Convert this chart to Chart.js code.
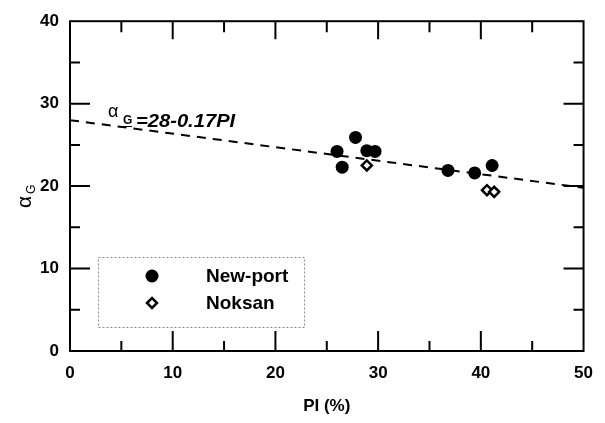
<!DOCTYPE html>
<html>
<head>
<meta charset="utf-8">
<script src="https://cdn.jsdelivr.net/npm/chart.js@4.4.1/dist/chart.umd.min.js"></script>
<style>
  html, body { margin: 0; padding: 0; background: #fff; }
  #wrap { width: 605px; height: 423px; position: relative; }
</style>
</head>
<body>
<div id="wrap"><canvas id="c" width="605" height="423"></canvas></div>
<script>
// ---- data ----
const newportPI = [26.0, 26.5, 27.8, 28.9, 29.7, 36.8, 39.4, 41.1];
const newportAG = [24.2, 22.3, 25.9, 24.3, 24.2, 21.9, 21.6, 22.5];
const noksanPI  = [28.9, 40.6, 41.3];
const noksanAG  = [22.5, 19.5, 19.3];
const fitPI = [0, 50];
const fitAG = [28, 19.8];
const xTicks = [0, 10, 20, 30, 40, 50];
const yTicks = [0, 10, 20, 30, 40];
const seriesNames = ['New-port', 'Noksan'];
const fitLabel = '=28-0.17PI';

const FONT = "'Liberation Sans', Arial, Helvetica, sans-serif";
const toPts = (xs, ys) => xs.map((x, i) => ({ x: x, y: ys[i] }));

const framePlugin = {
  id: 'frame',
  afterDatasetsDraw(chart) {
    const ctx = chart.ctx;
    const { left, right, top, bottom } = chart.chartArea;
    const xs = chart.scales.x, ys = chart.scales.y;
    ctx.save();
    ctx.strokeStyle = '#000';
    ctx.lineWidth = 2;
    ctx.strokeRect(left, top, right - left, bottom - top);
    // inward ticks on all four sides
    ctx.beginPath();
    for (let v = 5; v < 50; v += 5) {
      const px = xs.getPixelForValue(v);
      const len = (v % 10 === 0) ? 20 : 10;
      ctx.moveTo(px, bottom); ctx.lineTo(px, bottom - len);
      ctx.moveTo(px, top); ctx.lineTo(px, top + (v % 10 === 0 ? 18 : 11));
    }
    for (let v = 5; v < 40; v += 5) {
      const py = ys.getPixelForValue(v);
      const len = (v % 10 === 0) ? 20 : 10;
      ctx.moveTo(left, py); ctx.lineTo(left + len, py);
      ctx.moveTo(right, py); ctx.lineTo(right - len, py);
    }
    ctx.stroke();

    // legend box
    const lx = 98, ly = 257, lw = 206, lh = 70;
    ctx.lineWidth = 1;
    ctx.strokeStyle = '#8a8a8a';
    ctx.setLineDash([2, 2]);
    ctx.strokeRect(lx + 0.5, ly + 0.5, lw, lh);
    ctx.setLineDash([]);
    const ds = chart.data.datasets;
    const rows = [[ds[1], 276], [ds[2], 303]];
    rows.forEach(([d, yy], i) => {
      ctx.fillStyle = d.backgroundColor;
      ctx.strokeStyle = d.borderColor;
      ctx.lineWidth = d.borderWidth;
      Chart.helpers.drawPoint(ctx, { pointStyle: d.pointStyle, radius: d.pointRadius, borderWidth: d.borderWidth, rotation: 0 }, 152, yy);
      ctx.fillStyle = '#000';
      ctx.font = 'bold 19px ' + FONT;
      ctx.textBaseline = 'middle';
      ctx.textAlign = 'left';
      ctx.fillText(seriesNames[i], 206, yy + 1);
    });

    // regression annotation
    ctx.fillStyle = '#000';
    ctx.textBaseline = 'alphabetic';
    ctx.font = '18px ' + FONT;
    ctx.fillText('\u03B1', 108, 117);
    ctx.font = 'bold 12px ' + FONT;
    ctx.fillText('G', 123, 124);
    ctx.fillRect(123, 126, 9, 1);
    ctx.save();
    ctx.translate(136, 127);
    ctx.scale(1.12, 1);
    ctx.font = 'bold italic 18px ' + FONT;
    ctx.fillText(fitLabel, 0, 0);
    ctx.restore();

    // y axis title  αG (rotated)
    ctx.save();
    ctx.translate(31, 190);
    ctx.rotate(-Math.PI / 2);
    ctx.textAlign = 'left';
    ctx.font = '21px ' + FONT;
    ctx.fillText('\u03B1', -18, 0);
    ctx.font = '12px ' + FONT;
    ctx.fillText('G', -4, 4);
    ctx.restore();
    ctx.restore();
  }
};

new Chart(document.getElementById('c'), {
  type: 'scatter',
  data: {
    datasets: [
      {
        type: 'line', label: 'fit', data: toPts(fitPI, fitAG),
        borderColor: '#000', borderWidth: 2, borderDash: [9, 7],
        pointRadius: 0, fill: false, tension: 0
      },
      {
        label: seriesNames[0], data: toPts(newportPI, newportAG),
        pointStyle: 'circle', pointRadius: 6.5, borderWidth: 0,
        backgroundColor: '#000', borderColor: '#000'
      },
      {
        label: seriesNames[1], data: toPts(noksanPI, noksanAG),
        pointStyle: 'rectRot', pointRadius: 5, borderWidth: 2.5,
        backgroundColor: '#fff', borderColor: '#000'
      }
    ]
  },
  options: {
    responsive: false,
    animation: false,
    devicePixelRatio: 1,
    layout: { padding: { left: 0, right: 21, top: 18, bottom: 0 } },
    plugins: { legend: { display: false }, tooltip: { enabled: false } },
    scales: {
      x: {
        type: 'linear', min: 0, max: 50,
        afterBuildTicks: s => { s.ticks = xTicks.map(v => ({ value: v })); },
        afterFit: s => { s.height = 72; },
        grid: { display: false, drawTicks: false },
        border: { display: false },
        ticks: { color: '#000', padding: 12, font: { family: FONT, size: 17, weight: 'bold' } },
        title: { display: true, text: 'PI (%)', color: '#000', padding: { top: 0, bottom: 6 },
                 font: { family: FONT, size: 17, weight: 'bold' } }
      },
      y: {
        type: 'linear', min: 0, max: 40,
        afterBuildTicks: s => { s.ticks = yTicks.map(v => ({ value: v })); },
        afterFit: s => { s.width = 70; },
        grid: { display: false, drawTicks: false },
        border: { display: false },
        ticks: { color: '#000', padding: 11, font: { family: FONT, size: 17, weight: 'bold' } }
      }
    }
  },
  plugins: [framePlugin]
});
</script>
</body>
</html>
